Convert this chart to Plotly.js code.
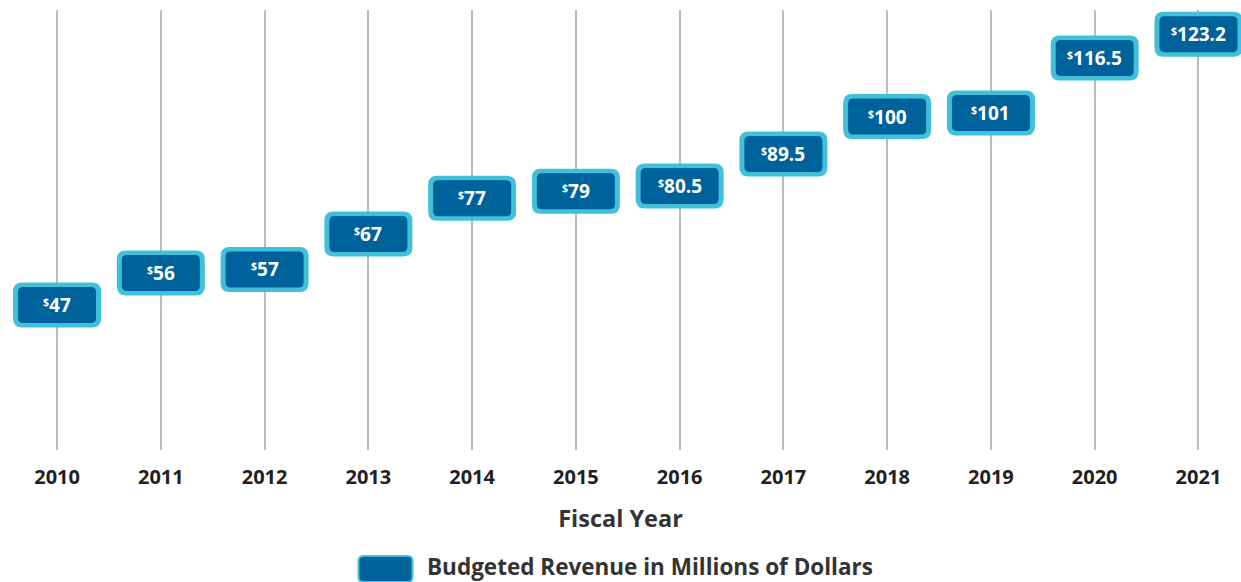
<!DOCTYPE html>
<html>
<head>
<meta charset="utf-8">
<script src="https://cdn.plot.ly/plotly-3.0.1.min.js"></script>
<style>html,body{margin:0;padding:0;background:#fff;}#chart{width:1241px;height:582px;}</style>
</head>
<body>
<div id="chart"></div>
<script>
// Data
var years = [2010, 2011, 2012, 2013, 2014, 2015, 2016, 2017, 2018, 2019, 2020, 2021];
var revenue = [47, 56, 57, 67, 77, 79, 80.5, 89.5, 100, 101, 116.5, 123.2];
var labels = ['47', '56', '57', '67', '77', '79', '80.5', '89.5', '100', '101', '116.5', '123.2'];
var seriesName = 'Budgeted Revenue in Millions of Dollars';
var axisTitle = 'Fiscal Year';

var FONT = '"Open Sans", sans-serif';
var BORDER = '#41c1d9';
var FILL = '#00629b';

function rr(w, h, r) {
  var a = w / 2, b = h / 2;
  return 'M ' + (-a + r) + ',' + (-b) +
    ' L ' + (a - r) + ',' + (-b) +
    ' Q ' + a + ',' + (-b) + ' ' + a + ',' + (-b + r) +
    ' L ' + a + ',' + (b - r) +
    ' Q ' + a + ',' + b + ' ' + (a - r) + ',' + b +
    ' L ' + (-a + r) + ',' + b +
    ' Q ' + (-a) + ',' + b + ' ' + (-a) + ',' + (b - r) +
    ' L ' + (-a) + ',' + (-b + r) +
    ' Q ' + (-a) + ',' + (-b) + ' ' + (-a + r) + ',' + (-b) + ' Z';
}

var shapes = [];
var annotations = [];
years.forEach(function (yr, i) {
  shapes.push({
    type: 'path', xref: 'x', yref: 'y', xsizemode: 'pixel', ysizemode: 'pixel',
    xanchor: yr, yanchor: revenue[i], path: rr(88, 45, 9),
    fillcolor: BORDER, line: {width: 0}, layer: 'above'
  });
  shapes.push({
    type: 'path', xref: 'x', yref: 'y', xsizemode: 'pixel', ysizemode: 'pixel',
    xanchor: yr, yanchor: revenue[i], path: rr(78, 36, 5),
    fillcolor: FILL, line: {width: 0}, layer: 'above'
  });
  annotations.push({
    x: yr, y: revenue[i], xref: 'x', yref: 'y', showarrow: false,
    text: '<span style="font-size:15px"><sup>$</sup></span>' + labels[i],
    font: {family: FONT, size: 19, color: '#ffffff', weight: 700},
    xanchor: 'center', yanchor: 'middle'
  });
});

// legend
var legY = (450 - 566.5) / 440;
shapes.push({
  type: 'path', xref: 'paper', yref: 'paper', xsizemode: 'pixel', ysizemode: 'pixel',
  xanchor: 385.5 / 1241, yanchor: (450 - 569) / 440, path: rr(56, 28, 6),
  fillcolor: BORDER, line: {width: 0}
});
shapes.push({
  type: 'path', xref: 'paper', yref: 'paper', xsizemode: 'pixel', ysizemode: 'pixel',
  xanchor: 385.5 / 1241, yanchor: (450 - 569) / 440, path: rr(52, 24, 4),
  fillcolor: FILL, line: {width: 0}
});
annotations.push({
  x: 425 / 1241, y: legY, xref: 'paper', yref: 'paper', showarrow: false,
  text: seriesName, xanchor: 'left', yanchor: 'middle',
  font: {family: FONT, size: 22.5, color: '#333333', weight: 700}
});

var trace = {
  x: years, y: revenue, type: 'scatter', mode: 'markers',
  marker: {opacity: 0, size: 1}, hoverinfo: 'skip', showlegend: false, name: seriesName
};

var layout = {
  width: 1241, height: 582,
  margin: {l: 0, r: 0, t: 10, b: 132},
  paper_bgcolor: '#ffffff', plot_bgcolor: '#ffffff',
  showlegend: false,
  xaxis: {
    range: [2009.45, 2021.41], tickvals: years, ticktext: years.map(String),
    showgrid: true, gridcolor: '#bcbcbc', gridwidth: 2, zeroline: false, showline: false,
    ticks: 'outside', ticklen: 9, tickcolor: 'rgba(0,0,0,0)',
    tickfont: {family: FONT, size: 20, color: '#231f20', weight: 700},
    title: {text: axisTitle, standoff: 21, font: {family: FONT, size: 23.5, color: '#333333', weight: 700}},
    fixedrange: true
  },
  yaxis: {
    range: [6.2, 130], showgrid: false, zeroline: false, showline: false,
    showticklabels: false, ticks: '', fixedrange: true
  },
  shapes: shapes,
  annotations: annotations
};

Plotly.newPlot('chart', [trace], layout, {displayModeBar: false, staticPlot: true});
</script>
</body>
</html>
